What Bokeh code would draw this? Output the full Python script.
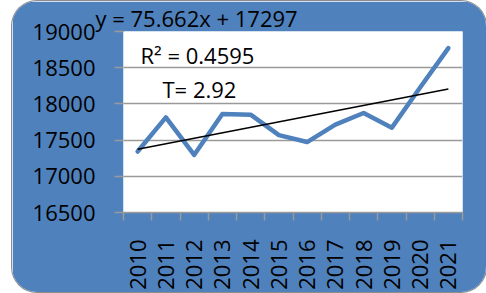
import math
from bokeh.plotting import figure
from bokeh.models import Range1d, FixedTicker, Label
from bokeh.embed import file_html
from bokeh.resources import INLINE

# ---- data ----
years = ["2010", "2011", "2012", "2013", "2014", "2015",
         "2016", "2017", "2018", "2019", "2020", "2021"]
values = [17342, 17814, 17295, 17861, 17851, 17568,
          17473, 17714, 17874, 17672, 18226, 18770]
y_ticks = [16500, 17000, 17500, 18000, 18500, 19000]
trend_slope = 75.662
trend_intercept = 17297
eq_text = "y = 75.662x + 17297"
r2_text = "R\u00b2 = 0.4595"
t_text = "T= 2.92"

# ---- style ----
BLUE = "#4f81bd"
GRAY = "#9a9a9a"
FONT = "Open Sans"
FS = "22px"

n = len(years)
xpos = [i + 0.5 for i in range(n)]
trend_x = [xpos[0], xpos[-1]]
trend_y = [trend_intercept + trend_slope * 1, trend_intercept + trend_slope * n]

p = figure(width=474, height=291, margin=(1, 0, 0, 12),
           x_range=Range1d(0, n), y_range=Range1d(y_ticks[0], y_ticks[-1]),
           output_backend="svg", toolbar_location=None,
           min_border_left=111, min_border_right=24,
           min_border_top=30, min_border_bottom=78)
p.border_fill_color = BLUE
p.background_fill_color = "white"
p.outline_line_color = None
p.styles = {"border-radius": "25px", "overflow": "hidden",
            "box-shadow": "0 0 0 1px #8c8c8c"}

# trend equation as the title (drawn above the plot area, not clipped)
p.title.text = eq_text
p.title.align = "left"
p.title.offset = -28
p.title.standoff = -2
p.title.text_font = FONT
p.title.text_font_size = FS
p.title.text_font_style = "normal"
p.title.text_color = "black"

# x axis
xa = p.xaxis[0]
xa.ticker = FixedTicker(ticks=xpos, minor_ticks=list(range(n + 1)))
xa.major_label_overrides = {x: y for x, y in zip(xpos, years)}
xa.major_label_orientation = math.pi / 2
xa.major_tick_out = 0
xa.major_tick_in = 0
xa.major_tick_line_color = None
xa.minor_tick_out = 8
xa.minor_tick_in = 0
xa.minor_tick_line_color = GRAY
xa.minor_tick_line_width = 1.5
xa.axis_line_color = GRAY
xa.axis_line_width = 1.5
xa.major_label_standoff = 19
xa.major_label_text_font = FONT
xa.major_label_text_font_size = FS
xa.major_label_text_color = "black"

# y axis
ya = p.yaxis[0]
ya.ticker = FixedTicker(ticks=y_ticks)
ya.major_tick_out = 9
ya.major_tick_in = 0
ya.major_tick_line_color = GRAY
ya.major_tick_line_width = 1.5
ya.minor_tick_line_color = None
ya.axis_line_color = None
ya.major_label_standoff = 19
ya.major_label_text_font = FONT
ya.major_label_text_font_size = FS
ya.major_label_text_color = "black"

p.xgrid.visible = False
p.ygrid.ticker = FixedTicker(ticks=y_ticks)
p.ygrid.grid_line_color = GRAY
p.ygrid.grid_line_width = 1.5

# series and trend
p.line(xpos, values, line_color=BLUE, line_width=4.5,
       line_join="round", line_cap="round")
p.line(trend_x, trend_y, line_color="black", line_width=1.5)

# annotations (screen offsets from the plot area's lower-left corner)
for txt, x, y in [(r2_text, 17, 157.5), (t_text, 39, 124)]:
    p.add_layout(Label(x=x, y=y, x_units="screen", y_units="screen", text=txt,
                       text_font=FONT, text_font_size=FS,
                       text_color="black", text_baseline="alphabetic"))

open("out.html", "w").write(file_html(p, INLINE))
